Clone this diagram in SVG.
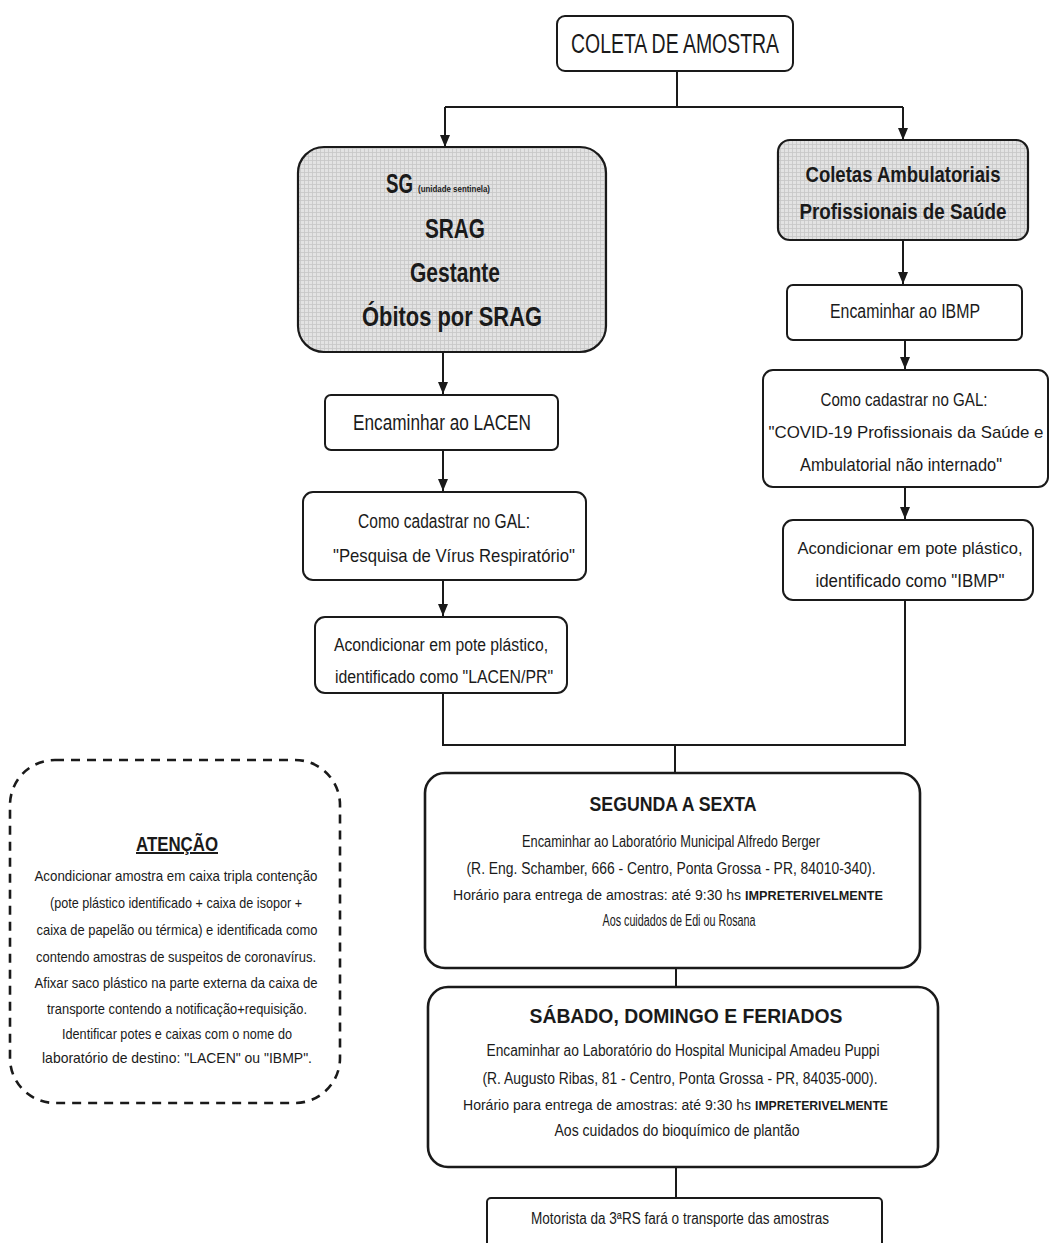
<svg xmlns="http://www.w3.org/2000/svg" width="1050" height="1243" viewBox="0 0 1050 1243">
<style>
.bx{fill:#fff;stroke:#1a1a1a;stroke-width:2}
.gb{fill:url(#grid);stroke:#1a1a1a;stroke-width:2.2}
.big{fill:#fff;stroke:#1a1a1a;stroke-width:2.6}
.ln{fill:none;stroke:#1a1a1a;stroke-width:2}
.t{font-family:"Liberation Sans Narrow","Liberation Sans",Arial,sans-serif;fill:#1a1a1a;text-anchor:middle}
.s{text-anchor:start}
.b{font-weight:bold}
</style>
<defs>
<pattern id="grid" width="4" height="4" patternUnits="userSpaceOnUse">
<rect width="4" height="4" fill="#e3e3e3"/>
<path d="M0,0.5H4M0.5,0V4" stroke="#c6c6c6" stroke-width="0.8"/>
</pattern>
<marker id="ah" markerWidth="12" markerHeight="10" refX="12" refY="5" orient="auto" markerUnits="userSpaceOnUse">
<path d="M0,0 L12,5 L0,10 z" fill="#1a1a1a"/>
</marker>
</defs>

<g id="connectors">
<path class="ln" d="M677,71 V107 M445,107 H903"/>
<path class="ln" d="M445,107 V147" marker-end="url(#ah)"/>
<path class="ln" d="M903,107 V140" marker-end="url(#ah)"/>
<path class="ln" d="M443,352 V394" marker-end="url(#ah)"/>
<path class="ln" d="M443,450 V491" marker-end="url(#ah)"/>
<path class="ln" d="M443,580 V616" marker-end="url(#ah)"/>
<path class="ln" d="M903,240 V284" marker-end="url(#ah)"/>
<path class="ln" d="M905,340 V369" marker-end="url(#ah)"/>
<path class="ln" d="M905,487 V519" marker-end="url(#ah)"/>
<path class="ln" d="M443,693 V745 H905 V600"/>
<path class="ln" d="M675,745 V773"/>
<path class="ln" d="M676,968 V987"/>
<path class="ln" d="M676,1167 V1198"/>
</g>

<g id="coleta">
<rect class="bx" x="557" y="16" width="236" height="55" rx="8"/>
<text class="t" x="675" y="53" font-size="27" textLength="208" lengthAdjust="spacingAndGlyphs">COLETA DE AMOSTRA</text>
</g>

<g id="sg">
<rect class="gb" x="298" y="147" width="308" height="205" rx="26"/>
<text class="t b s" x="386" y="193" font-size="27" textLength="27" lengthAdjust="spacingAndGlyphs">SG</text>
<text class="t b s" x="418" y="192" font-size="9" textLength="72" lengthAdjust="spacingAndGlyphs">(unidade sentinela)</text>
<text class="t b" x="455" y="238" font-size="27" textLength="60" lengthAdjust="spacingAndGlyphs">SRAG</text>
<text class="t b" x="455" y="282" font-size="27" textLength="90" lengthAdjust="spacingAndGlyphs">Gestante</text>
<text class="t b" x="452" y="326" font-size="27" textLength="180" lengthAdjust="spacingAndGlyphs">Óbitos por  SRAG</text>
</g>

<g id="coletas">
<rect class="gb" x="778" y="140" width="250" height="100" rx="12"/>
<text class="t b" x="903" y="182" font-size="22" textLength="195" lengthAdjust="spacingAndGlyphs">Coletas Ambulatoriais</text>
<text class="t b" x="903" y="219" font-size="22" textLength="207" lengthAdjust="spacingAndGlyphs">Profissionais de Saúde</text>
</g>

<g id="lacen">
<rect class="bx" x="325" y="395" width="233" height="55" rx="6"/>
<text class="t" x="442" y="430" font-size="22" textLength="178" lengthAdjust="spacingAndGlyphs">Encaminhar ao LACEN</text>
</g>

<g id="gal-left">
<rect class="bx" x="303" y="492" width="283" height="88" rx="10"/>
<text class="t" x="444" y="528" font-size="20" textLength="172" lengthAdjust="spacingAndGlyphs">Como cadastrar no GAL:</text>
<text class="t" x="454" y="562" font-size="19" textLength="242" lengthAdjust="spacingAndGlyphs">"Pesquisa de Vírus Respiratório"</text>
</g>

<g id="pote-lacen">
<rect class="bx" x="315" y="617" width="252" height="76" rx="10"/>
<text class="t" x="441" y="651" font-size="18" textLength="214" lengthAdjust="spacingAndGlyphs">Acondicionar em pote plástico,</text>
<text class="t" x="444" y="683" font-size="18" textLength="218" lengthAdjust="spacingAndGlyphs">identificado como "LACEN/PR"</text>
</g>

<g id="ibmp">
<rect class="bx" x="787" y="285" width="235" height="55" rx="6"/>
<text class="t" x="905" y="318" font-size="20" textLength="150" lengthAdjust="spacingAndGlyphs">Encaminhar ao IBMP</text>
</g>

<g id="gal-right">
<rect class="bx" x="763" y="370" width="285" height="117" rx="10"/>
<text class="t" x="904" y="406" font-size="19" textLength="167" lengthAdjust="spacingAndGlyphs">Como cadastrar no GAL:</text>
<text class="t" x="906" y="438" font-size="17" textLength="275" lengthAdjust="spacingAndGlyphs">"COVID-19 Profissionais da Saúde e</text>
<text class="t" x="901" y="471" font-size="19" textLength="202" lengthAdjust="spacingAndGlyphs">Ambulatorial não internado"</text>
</g>

<g id="pote-ibmp">
<rect class="bx" x="783" y="520" width="250" height="80" rx="10"/>
<text class="t" x="910" y="554" font-size="17" textLength="225" lengthAdjust="spacingAndGlyphs">Acondicionar em pote plástico,</text>
<text class="t" x="910" y="587" font-size="18" textLength="189" lengthAdjust="spacingAndGlyphs">identificado como "IBMP"</text>
</g>

<g id="atencao">
<rect x="10" y="760" width="330" height="343" rx="45" fill="none" stroke="#1a1a1a" stroke-width="2.6" stroke-dasharray="9,7"/>
<text class="t b" x="177" y="851" font-size="20" text-decoration="underline" textLength="82" lengthAdjust="spacingAndGlyphs">ATENÇÃO</text>
<text class="t" x="176" y="881" font-size="15" textLength="283" lengthAdjust="spacingAndGlyphs">Acondicionar amostra em caixa tripla contenção</text>
<text class="t" x="176" y="908" font-size="15" textLength="252" lengthAdjust="spacingAndGlyphs">(pote plástico identificado + caixa de isopor +</text>
<text class="t" x="177" y="935" font-size="15" textLength="281" lengthAdjust="spacingAndGlyphs">caixa de papelão ou térmica) e identificada como</text>
<text class="t" x="176" y="962" font-size="15" textLength="280" lengthAdjust="spacingAndGlyphs">contendo amostras de suspeitos de coronavírus.</text>
<text class="t" x="176" y="988" font-size="15" textLength="283" lengthAdjust="spacingAndGlyphs">Afixar saco plástico na parte externa da caixa de</text>
<text class="t" x="177" y="1014" font-size="15" textLength="260" lengthAdjust="spacingAndGlyphs">transporte contendo a notificação+requisição.</text>
<text class="t" x="177" y="1039" font-size="15" textLength="230" lengthAdjust="spacingAndGlyphs">Identificar potes e caixas com o nome do</text>
<text class="t" x="177" y="1063" font-size="15" textLength="270" lengthAdjust="spacingAndGlyphs">laboratório de destino: "LACEN" ou "IBMP".</text>
</g>

<g id="segunda">
<rect class="big" x="425" y="773" width="495" height="195" rx="20"/>
<text class="t b" x="673" y="811" font-size="21" textLength="167" lengthAdjust="spacingAndGlyphs">SEGUNDA A SEXTA</text>
<text class="t" x="671" y="847" font-size="16" textLength="298" lengthAdjust="spacingAndGlyphs">Encaminhar ao Laboratório Municipal Alfredo Berger</text>
<text class="t" x="671" y="874" font-size="16" textLength="409" lengthAdjust="spacingAndGlyphs">(R. Eng. Schamber, 666 - Centro, Ponta Grossa - PR, 84010-340).</text>
<text class="t s" x="453" y="900" font-size="14" textLength="288" lengthAdjust="spacingAndGlyphs">Horário para entrega de amostras: até 9:30 hs</text>
<text class="t b s" x="745" y="900" font-size="13" textLength="138" lengthAdjust="spacingAndGlyphs">IMPRETERIVELMENTE</text>
<text class="t" x="679" y="926" font-size="16" textLength="153" lengthAdjust="spacingAndGlyphs">Aos cuidados de Edi ou Rosana</text>
</g>

<g id="sabado">
<rect class="big" x="428" y="987" width="510" height="180" rx="20"/>
<text class="t b" x="686" y="1023" font-size="21" textLength="313" lengthAdjust="spacingAndGlyphs">SÁBADO, DOMINGO E FERIADOS</text>
<text class="t" x="683" y="1056" font-size="16" textLength="393" lengthAdjust="spacingAndGlyphs">Encaminhar ao Laboratório do Hospital Municipal Amadeu Puppi</text>
<text class="t" x="680" y="1084" font-size="16" textLength="395" lengthAdjust="spacingAndGlyphs">(R. Augusto Ribas, 81 - Centro, Ponta Grossa - PR, 84035-000).</text>
<text class="t s" x="463" y="1110" font-size="14" textLength="288" lengthAdjust="spacingAndGlyphs">Horário para entrega de amostras: até 9:30 hs</text>
<text class="t b s" x="755" y="1110" font-size="13" textLength="133" lengthAdjust="spacingAndGlyphs">IMPRETERIVELMENTE</text>
<text class="t" x="677" y="1136" font-size="16" textLength="245" lengthAdjust="spacingAndGlyphs">Aos cuidados do bioquímico de plantão</text>
</g>

<g id="motorista">
<rect class="bx" x="487" y="1198" width="395" height="50" rx="4"/>
<text class="t" x="680" y="1224" font-size="16" textLength="298" lengthAdjust="spacingAndGlyphs">Motorista da 3ªRS fará o transporte das amostras</text>
</g>
</svg>
